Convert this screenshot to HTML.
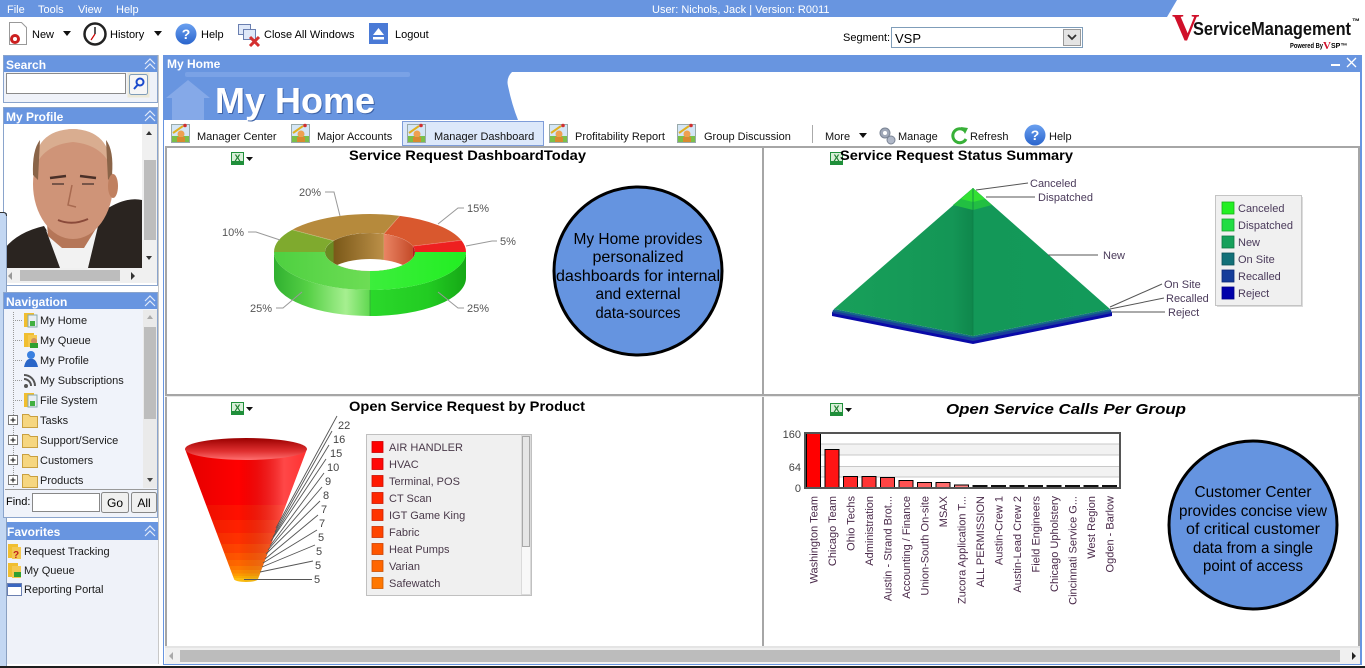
<!DOCTYPE html>
<html><head><meta charset="utf-8"><style>
html,body{margin:0;padding:0;background:#fff;width:1365px;height:668px;overflow:hidden}
svg{display:block}
</style></head><body>
<svg width="1365" height="668" viewBox="0 0 1365 668" xmlns="http://www.w3.org/2000/svg" font-family="'Liberation Sans', Arial, sans-serif">
<defs>
<linearGradient id="gSide1" x1="0" y1="0" x2="1" y2="0"><stop offset="0" stop-color="#2bd82b"/><stop offset="0.6" stop-color="#22cc22"/><stop offset="1" stop-color="#16a816"/></linearGradient>
<linearGradient id="gSide2" x1="0" y1="0" x2="1" y2="0"><stop offset="0" stop-color="#30b030"/><stop offset="0.35" stop-color="#55d045"/><stop offset="0.75" stop-color="#a6ef90"/><stop offset="1" stop-color="#60d850"/></linearGradient>
<linearGradient id="gTop1" x1="0" y1="0" x2="1" y2="0"><stop offset="0" stop-color="#3cee3c"/><stop offset="1" stop-color="#22ee22"/></linearGradient>
<linearGradient id="gTop2" x1="0" y1="0" x2="1" y2="0"><stop offset="0" stop-color="#4ed040"/><stop offset="1" stop-color="#6ddd55"/></linearGradient>
<linearGradient id="gWallB" x1="0" y1="0" x2="1" y2="0"><stop offset="0" stop-color="#7a5818"/><stop offset="1" stop-color="#bc9048"/></linearGradient>
<linearGradient id="gWallO" x1="0" y1="0" x2="1" y2="0"><stop offset="0" stop-color="#ea8464"/><stop offset="1" stop-color="#c44a28"/></linearGradient>
<clipPath id="cInner"><ellipse cx="370" cy="252" rx="45" ry="19"/></clipPath>
<linearGradient id="gPyrL" x1="0" y1="0" x2="1" y2="0"><stop offset="0" stop-color="#18a05a"/><stop offset="0.85" stop-color="#149656"/><stop offset="1" stop-color="#0f874c"/></linearGradient>
<linearGradient id="gPyrR" x1="0" y1="0" x2="1" y2="0"><stop offset="0" stop-color="#139858"/><stop offset="1" stop-color="#139a5a"/></linearGradient>
<clipPath id="cFun"><path d="M185,449 L307,449 L258,579 A12,3 0 0 1 234,579 Z"/></clipPath>
<linearGradient id="gFunShade" x1="0" y1="0" x2="1" y2="0"><stop offset="0" stop-color="#000" stop-opacity="0.12"/><stop offset="0.45" stop-color="#000" stop-opacity="0"/><stop offset="0.8" stop-color="#fff" stop-opacity="0.28"/><stop offset="1" stop-color="#fff" stop-opacity="0.18"/></linearGradient>
<linearGradient id="gFunTop" x1="0" y1="0" x2="0" y2="1"><stop offset="0" stop-color="#9a0000"/><stop offset="0.6" stop-color="#e03030"/><stop offset="1" stop-color="#ff7070"/></linearGradient>
<linearGradient id="gBlueBtn" x1="0" y1="0" x2="0" y2="1"><stop offset="0" stop-color="#6aa0f0"/><stop offset="1" stop-color="#2a64cc"/></linearGradient>
</defs>

<!-- ===== top menu bar ===== -->
<polygon points="0,0 1177,0 1167,17 0,17" fill="#6895e0"/>
<g fill="#fff" font-size="11">
<text x="7" y="13">File</text><text x="38" y="13">Tools</text><text x="78" y="13">View</text><text x="116" y="13">Help</text>
<text x="652" y="13">User: Nichols, Jack  |  Version: R0011</text>
</g>

<!-- toolbar -->
<g>
<path d="M9.5,22.5 L21.5,22.5 L26.5,27.5 L26.5,44.5 L9.5,44.5 Z" fill="#fff" stroke="#999"/>
<circle cx="15" cy="39" r="5" fill="#cc2020"/><circle cx="15" cy="39" r="2" fill="#fff"/>
<text x="32" y="38" font-size="11">New</text>
<polygon points="63,31 71,31 67,36" fill="#111"/>
<circle cx="95" cy="34" r="10.5" fill="#fff" stroke="#222" stroke-width="2.5"/>
<line x1="95" y1="34" x2="95" y2="27" stroke="#222" stroke-width="1.5"/><line x1="95" y1="34" x2="91" y2="40" stroke="#c00" stroke-width="1.2"/>
<text x="110" y="38" font-size="11">History</text>
<polygon points="154,31 162,31 158,36" fill="#111"/>
<circle cx="186" cy="34" r="10.5" fill="url(#gBlueBtn)"/>
<text x="186" y="39" font-size="14" font-weight="bold" fill="#fff" text-anchor="middle">?</text>
<text x="201" y="38" font-size="11">Help</text>
<rect x="238.5" y="24.5" width="12" height="10" fill="#dfe8f8" stroke="#6a7fb0"/>
<rect x="243.5" y="29.5" width="12" height="10" fill="#dfe8f8" stroke="#6a7fb0"/>
<path d="M250,37 L259,46 M259,37 L250,46" stroke="#d43030" stroke-width="3"/>
<text x="264" y="38" font-size="11">Close All Windows</text>
<rect x="369" y="23" width="19" height="21" fill="#4a7ad6"/>
<polygon points="373,35 378.5,28 384,35" fill="#fff"/><rect x="373" y="37" width="11" height="2.5" fill="#fff"/>
<text x="395" y="38" font-size="11">Logout</text>
</g>

<text x="843" y="41" font-size="11">Segment:</text>
<rect x="891.5" y="27.5" width="191" height="20" fill="#fff" stroke="#7f9db9"/>
<text x="895" y="43" font-size="13">VSP</text>
<rect x="1063.5" y="29.5" width="17" height="16" fill="#e4e4e4" stroke="#999"/>
<polyline points="1068,35 1072,39 1076,35" fill="none" stroke="#333" stroke-width="1.8"/>

<!-- logo -->
<text x="1172" y="40" font-family="'Liberation Serif', serif" font-size="38" font-weight="bold" fill="#d0102a">V</text>
<text x="1193" y="35" font-size="18" font-weight="bold" fill="#111" textLength="158" lengthAdjust="spacingAndGlyphs">ServiceManagement</text>
<text x="1352" y="24" font-size="8" font-weight="bold">™</text>
<text x="1290" y="48" font-size="7" font-weight="bold" textLength="33" lengthAdjust="spacingAndGlyphs">Powered By</text>
<text x="1323" y="49" font-family="'Liberation Serif', serif" font-size="11" font-weight="bold" fill="#d0102a">V</text>
<text x="1331" y="48" font-size="7" font-weight="bold">SP™</text>

<!-- ===== left sidebar ===== -->
<!-- search -->
<rect x="3.5" y="55.5" width="154" height="47" fill="#eff2f9" stroke="#8aa4cc"/>
<rect x="4" y="56" width="153" height="16" fill="#6895e0"/>
<text x="6" y="69" font-size="12" font-weight="bold" fill="#fff">Search</text>
<g fill="none" stroke="#e2eafa" stroke-width="1.2"><polyline points="145,64 150,59 155,64"/><polyline points="145,69 150,64 155,69"/></g>
<rect x="6.5" y="73.5" width="119" height="20" fill="#fff" stroke="#8a8a8a"/>
<rect x="127.5" y="72.5" width="22" height="25" fill="#ece9d8"/>
<rect x="129.5" y="74.5" width="18" height="20" rx="2" fill="#f6f6f6" stroke="#7f9db9"/>
<circle cx="140" cy="82" r="3.5" fill="none" stroke="#1a4acc" stroke-width="2"/><line x1="137.5" y1="85" x2="134" y2="89" stroke="#1a4acc" stroke-width="2"/>

<!-- my profile -->
<rect x="3.5" y="107.5" width="154" height="178" fill="#fff" stroke="#8aa4cc"/>
<rect x="4" y="108" width="153" height="16" fill="#6895e0"/>
<text x="6" y="121" font-size="12" font-weight="bold" fill="#fff">My Profile</text>
<g fill="none" stroke="#e2eafa" stroke-width="1.2"><polyline points="145,116 150,111 155,116"/><polyline points="145,121 150,116 155,121"/></g>
<!-- photo -->
<g>
<path d="M5,268 L5,248 Q18,232 44,226 L58,248 L86,248 L102,212 Q125,196 142,200 L142,268 Z" fill="#2a2420"/>
<path d="M46,230 L60,268 L88,268 L100,218 L84,246 L62,246 Z" fill="#f2f2f2"/>
<path d="M46,212 L48,236 L62,248 L84,248 L100,222 L104,200 Z" fill="#b57658"/>
<ellipse cx="73" cy="184" rx="40" ry="55" fill="#cf9478"/>
<path d="M34,170 Q34,130 73,129 Q110,130 112,170 Q104,145 73,142 Q42,145 34,170 Z" fill="#d9ad90"/>
<path d="M33,175 Q32,150 40,140 L38,180 Z M112,175 Q114,150 106,140 L108,180 Z" fill="#8a6448"/>
<ellipse cx="113" cy="186" rx="5" ry="12" fill="#c08060"/>
<path d="M50,178 L66,176 M80,176 L96,178" stroke="#4a3028" stroke-width="2.5"/>
<path d="M52,184 L64,184 M82,184 L94,184" stroke="#5a4038" stroke-width="1.5"/>
<path d="M72,185 L68,205 L76,207" fill="none" stroke="#a86a50" stroke-width="1.5"/>
<path d="M58,220 Q72,226 88,219" fill="none" stroke="#8a4a3a" stroke-width="2"/>
</g>
<rect x="142" y="124" width="15" height="144" fill="#f0f0f0"/>
<rect x="144" y="160" width="12" height="80" fill="#bdbdbd"/>
<polygon points="146,135 152,135 149,131" fill="#333"/><polygon points="146,256 152,256 149,260" fill="#333"/>
<rect x="5" y="268" width="152" height="15" fill="#f0f0f0"/>
<rect x="20" y="270" width="100" height="11" fill="#bdbdbd"/>
<polygon points="12,272 12,280 8,276" fill="#999"/><polygon points="131,272 131,280 135,276" fill="#333"/>

<!-- left strip artifact -->
<rect x="0" y="212" width="6" height="456" fill="#c3d7f2"/>
<line x1="6.5" y1="213" x2="6.5" y2="668" stroke="#8aa0c0"/>
<path d="M0,212.5 L4,212.5 Q6.5,213 6.5,216" fill="none" stroke="#333"/>

<!-- navigation -->
<rect x="3.5" y="292.5" width="154" height="225" fill="#f0f3fa" stroke="#8aa4cc"/>
<rect x="4" y="293" width="153" height="16" fill="#6895e0"/>
<text x="6" y="306" font-size="12" font-weight="bold" fill="#fff">Navigation</text>
<g fill="none" stroke="#e2eafa" stroke-width="1.2"><polyline points="145,301 150,296 155,301"/><polyline points="145,306 150,301 155,306"/></g>
<g stroke="#999" stroke-dasharray="1,1" fill="none">
<line x1="13.5" y1="312" x2="13.5" y2="488"/>
<line x1="13" y1="320.5" x2="22" y2="320.5"/><line x1="13" y1="340.5" x2="22" y2="340.5"/><line x1="13" y1="360.5" x2="22" y2="360.5"/><line x1="13" y1="380.5" x2="22" y2="380.5"/><line x1="13" y1="400.5" x2="22" y2="400.5"/>
</g>
<g>
<!-- My Home -->
<rect x="24" y="313" width="10" height="14" fill="#f0be30"/><rect x="28" y="315" width="9" height="12" fill="#e8eef4" stroke="#8aa"/><rect x="30" y="321" width="5" height="5" fill="#40b040"/>
<!-- My Queue -->
<rect x="24" y="333" width="10" height="14" fill="#f0be30"/><rect x="28" y="335" width="9" height="12" fill="#f4c850"/><circle cx="34" cy="341" r="3" fill="#d09060"/><rect x="30" y="343" width="8" height="5" fill="#30a030"/>
<!-- My Profile -->
<circle cx="31" cy="355" r="4" fill="#3a80e0"/><path d="M24,367 Q26,358 31,359 Q36,358 38,367 Z" fill="#2a66c8"/>
<!-- Subscriptions -->
<circle cx="26" cy="386" r="2" fill="#555"/><path d="M24,379 A7,7 0 0 1 31,386 M24,375 A11,11 0 0 1 35,386" fill="none" stroke="#555" stroke-width="2"/>
<!-- File System -->
<rect x="24" y="393" width="10" height="14" fill="#f0be30"/><rect x="28" y="395" width="9" height="12" fill="#e8eef4" stroke="#8aa"/><rect x="30" y="401" width="5" height="5" fill="#40b040"/>
</g>
<g font-size="11" fill="#1a1a1a">
<text x="40" y="324">My Home</text><text x="40" y="344">My Queue</text><text x="40" y="364">My Profile</text><text x="40" y="384">My Subscriptions</text><text x="40" y="404">File System</text>
<text x="40" y="424">Tasks</text><text x="40" y="444">Support/Service</text><text x="40" y="464">Customers</text><text x="40" y="484">Products</text>
</g>
<g>
<g id="plus1"><rect x="8.5" y="415.5" width="9" height="9" fill="#fff" stroke="#777"/><path d="M10.5,420 L15.5,420 M13,417.5 L13,422.5" stroke="#111"/></g>
<rect x="8.5" y="435.5" width="9" height="9" fill="#fff" stroke="#777"/><path d="M10.5,440 L15.5,440 M13,437.5 L13,442.5" stroke="#111"/>
<rect x="8.5" y="455.5" width="9" height="9" fill="#fff" stroke="#777"/><path d="M10.5,460 L15.5,460 M13,457.5 L13,462.5" stroke="#111"/>
<rect x="8.5" y="475.5" width="9" height="9" fill="#fff" stroke="#777"/><path d="M10.5,480 L15.5,480 M13,477.5 L13,482.5" stroke="#111"/>
<g fill="#f6d680" stroke="#c9a040">
<path d="M22.5,414.5 L28.5,414.5 L30.5,416.5 L37.5,416.5 L37.5,427.5 L22.5,427.5 Z"/>
<path d="M22.5,434.5 L28.5,434.5 L30.5,436.5 L37.5,436.5 L37.5,447.5 L22.5,447.5 Z"/>
<path d="M22.5,454.5 L28.5,454.5 L30.5,456.5 L37.5,456.5 L37.5,467.5 L22.5,467.5 Z"/>
<path d="M22.5,474.5 L28.5,474.5 L30.5,476.5 L37.5,476.5 L37.5,487.5 L22.5,487.5 Z"/>
</g>
</g>
<rect x="143" y="310" width="14" height="178" fill="#eaeaea"/>
<rect x="144" y="327" width="12" height="92" fill="#bdbdbd"/>
<polygon points="147,319 153,319 150,315" fill="#aaa"/><polygon points="147,478 153,478 150,482" fill="#444"/>
<line x1="5" y1="489.5" x2="157" y2="489.5" stroke="#999"/>
<text x="6" y="505" font-size="11">Find:</text>
<rect x="32.5" y="493.5" width="67" height="18" fill="#fff" stroke="#888"/>
<rect x="101.5" y="492.5" width="27" height="20" rx="2" fill="#f0f0f0" stroke="#888"/>
<text x="115" y="507" font-size="12" text-anchor="middle">Go</text>
<rect x="131.5" y="492.5" width="25" height="20" rx="2" fill="#f0f0f0" stroke="#888"/>
<text x="144" y="507" font-size="12" text-anchor="middle">All</text>

<!-- favorites -->
<rect x="7" y="522" width="151" height="142" fill="#eff2f9"/>
<rect x="7" y="522" width="151" height="18" fill="#6895e0"/>
<text x="7" y="536" font-size="12" font-weight="bold" fill="#fff">Favorites</text>
<g fill="none" stroke="#e2eafa" stroke-width="1.2"><polyline points="145,531 150,526 155,531"/><polyline points="145,536 150,531 155,536"/></g>
<rect x="8" y="544" width="10" height="14" fill="#f0be30"/><rect x="12" y="547" width="9" height="12" fill="#f4c850"/><text x="13" y="558" font-size="10" font-weight="bold" fill="#c02020">?</text>
<rect x="8" y="563" width="10" height="14" fill="#f0be30"/><rect x="12" y="566" width="9" height="12" fill="#f4c850"/><rect x="14" y="572" width="7" height="5" fill="#30a030"/>
<rect x="7.5" y="583.5" width="14" height="12" fill="#fff" stroke="#6a7fb0"/><rect x="8" y="584" width="13" height="3" fill="#3a66c0"/>
<g font-size="11" fill="#1a1a1a"><text x="24" y="555">Request Tracking</text><text x="24" y="574">My Queue</text><text x="24" y="593">Reporting Portal</text></g>
<line x1="158.5" y1="55" x2="158.5" y2="664" stroke="#c8c8c8"/>

<!-- ===== main window ===== -->
<rect x="163.5" y="55.5" width="1198" height="609" fill="#fff" stroke="#6895e0"/>
<rect x="163" y="55" width="1199" height="17" fill="#6895e0"/>
<text x="167" y="68" font-size="12" font-weight="bold" fill="#fff">My Home</text>
<line x1="1331" y1="65" x2="1340" y2="65" stroke="#fff" stroke-width="2"/>
<path d="M1347,58 L1356,67 M1356,58 L1347,67" stroke="#fff" stroke-width="1.3"/>
<!-- banner -->
<path d="M164,72 L512,72 Q506,78 508,86 Q512,105 518,120 L164,120 Z" fill="#6895e0"/>
<rect x="185" y="72" width="225" height="5" rx="2" fill="#7aa2e6"/>
<path d="M166,98 L188,80 L210,98 L204,98 L204,120 L172,120 L172,98 Z" fill="#85a9e8"/>
<text x="216" y="114" font-size="36" font-weight="bold" fill="#3f64a8">My Home</text>
<text x="215" y="113" font-size="36" font-weight="bold" fill="#fff">My Home</text>

<!-- tabs -->
<rect x="402.5" y="121.5" width="141" height="24" fill="#dce8fa" stroke="#7f9dd9"/>
<g id="ticon">
<g transform="translate(171,124)"><rect x="0.5" y="0.5" width="18" height="18" fill="#d4e6f6" stroke="#9aa"/><rect x="1" y="12" width="17" height="6" fill="#7ac04a"/><circle cx="10" cy="10" r="3.5" fill="#eea050"/><rect x="6" y="13" width="8" height="5" fill="#d88a30"/><line x1="2" y1="9" x2="12" y2="2" stroke="#e0b020" stroke-width="2"/><circle cx="14" cy="1.5" r="1.8" fill="#d03030"/></g>
</g>
<g transform="translate(291,124)"><rect x="0.5" y="0.5" width="18" height="18" fill="#d4e6f6" stroke="#9aa"/><rect x="1" y="12" width="17" height="6" fill="#7ac04a"/><circle cx="10" cy="10" r="3.5" fill="#eea050"/><rect x="6" y="13" width="8" height="5" fill="#d88a30"/><line x1="2" y1="9" x2="12" y2="2" stroke="#e0b020" stroke-width="2"/><circle cx="14" cy="1.5" r="1.8" fill="#d03030"/></g>
<g transform="translate(407,124)"><rect x="0.5" y="0.5" width="18" height="18" fill="#d4e6f6" stroke="#9aa"/><rect x="1" y="12" width="17" height="6" fill="#7ac04a"/><circle cx="10" cy="10" r="3.5" fill="#eea050"/><rect x="6" y="13" width="8" height="5" fill="#d88a30"/><line x1="2" y1="9" x2="12" y2="2" stroke="#e0b020" stroke-width="2"/><circle cx="14" cy="1.5" r="1.8" fill="#d03030"/></g>
<g transform="translate(549,124)"><rect x="0.5" y="0.5" width="18" height="18" fill="#d4e6f6" stroke="#9aa"/><rect x="1" y="12" width="17" height="6" fill="#7ac04a"/><circle cx="10" cy="10" r="3.5" fill="#eea050"/><rect x="6" y="13" width="8" height="5" fill="#d88a30"/><line x1="2" y1="9" x2="12" y2="2" stroke="#e0b020" stroke-width="2"/><circle cx="14" cy="1.5" r="1.8" fill="#d03030"/></g>
<g transform="translate(677,124)"><rect x="0.5" y="0.5" width="18" height="18" fill="#d4e6f6" stroke="#9aa"/><rect x="1" y="12" width="17" height="6" fill="#7ac04a"/><circle cx="10" cy="10" r="3.5" fill="#eea050"/><rect x="6" y="13" width="8" height="5" fill="#d88a30"/><line x1="2" y1="9" x2="12" y2="2" stroke="#e0b020" stroke-width="2"/><circle cx="14" cy="1.5" r="1.8" fill="#d03030"/></g>
<g font-size="11" fill="#111">
<text x="197" y="140">Manager Center</text><text x="317" y="140">Major Accounts</text><text x="434" y="140">Manager Dashboard</text>
<text x="575" y="140">Profitability Report</text><text x="704" y="140">Group Discussion</text>
<text x="825" y="140">More</text><text x="898" y="140">Manage</text><text x="970" y="140">Refresh</text><text x="1049" y="140">Help</text>
</g>
<line x1="812.5" y1="125" x2="812.5" y2="143" stroke="#aaa"/>
<polygon points="859,133 867,133 863,138" fill="#111"/>
<circle cx="885" cy="133" r="5" fill="#a0a8b8" stroke="#7a8494"/><circle cx="885" cy="133" r="2" fill="#fff"/>
<circle cx="891" cy="140" r="4" fill="#b0b8c8" stroke="#7a8494"/>
<path d="M965,131 A7,7 0 1 0 966,139" fill="none" stroke="#38b038" stroke-width="3"/>
<polygon points="961,127 968,128 965,134" fill="#38b038"/>
<circle cx="1035" cy="135" r="10.5" fill="url(#gBlueBtn)"/>
<text x="1035" y="140" font-size="14" font-weight="bold" fill="#fff" text-anchor="middle">?</text>

<!-- content borders -->
<rect x="165" y="146" width="1195" height="2" fill="#a6a6a6"/>
<rect x="165" y="146" width="2" height="502" fill="#a6a6a6"/>
<rect x="1358" y="146" width="2" height="502" fill="#a6a6a6"/>
<rect x="762" y="146" width="2" height="502" fill="#a6a6a6"/>
<rect x="165" y="394" width="1195" height="2" fill="#a6a6a6"/>
<rect x="165" y="396" width="1195" height="1" fill="#e8e8e8"/>
<rect x="165" y="646" width="1195" height="2" fill="#e4e4e4"/>
<!-- bottom scrollbar -->
<rect x="165" y="648" width="1195" height="16" fill="#f0f0f0"/>
<rect x="180" y="650" width="1160" height="12" fill="#bcbcbc"/>
<polygon points="173,652 173,660 169,656" fill="#aaa"/>
<polygon points="1352,652 1352,660 1356,656" fill="#222"/>
<rect x="1360" y="55" width="2" height="610" fill="#6895e0"/>
<rect x="0" y="666" width="1365" height="2" fill="#1e1e1e"/>

<!-- excel icons -->
<g>
<rect x="231" y="152" width="13" height="13" fill="#1f8f3a"/><rect x="232" y="153" width="11" height="8" fill="#d8efd8"/><text x="237.5" y="161" font-size="9" font-weight="bold" fill="#1f7f30" text-anchor="middle">X</text><polygon points="246,157 253,157 249.5,161" fill="#111"/>
<rect x="830" y="152" width="13" height="13" fill="#1f8f3a"/><rect x="831" y="153" width="11" height="8" fill="#d8efd8"/><text x="836.5" y="161" font-size="9" font-weight="bold" fill="#1f7f30" text-anchor="middle">X</text>
<rect x="231" y="402" width="13" height="13" fill="#1f8f3a"/><rect x="232" y="403" width="11" height="8" fill="#d8efd8"/><text x="237.5" y="411" font-size="9" font-weight="bold" fill="#1f7f30" text-anchor="middle">X</text><polygon points="246,407 253,407 249.5,411" fill="#111"/>
<rect x="830" y="403" width="13" height="13" fill="#1f8f3a"/><rect x="831" y="404" width="11" height="8" fill="#d8efd8"/><text x="836.5" y="412" font-size="9" font-weight="bold" fill="#1f7f30" text-anchor="middle">X</text><polygon points="845,408 852,408 848.5,412" fill="#111"/>
</g>

<!-- titles -->
<g font-weight="bold" fill="#000">
<text x="349" y="160" font-size="14" textLength="237" lengthAdjust="spacingAndGlyphs">Service Request DashboardToday</text>
<text x="840" y="160" font-size="14" textLength="233" lengthAdjust="spacingAndGlyphs">Service Request Status Summary</text>
<text x="349" y="411" font-size="14" textLength="236" lengthAdjust="spacingAndGlyphs">Open Service Request by Product</text>
<text x="946" y="414" font-size="15" font-style="italic" textLength="240" lengthAdjust="spacingAndGlyphs">Open Service Calls Per Group</text>
</g>

<!-- ===== donut chart ===== -->
<g>
<path d="M466,252 A96,38 0 0 1 370,290 L370,316 A96,38 0 0 0 466,278 Z" fill="url(#gSide1)"/>
<path d="M370,290 A96,38 0 0 1 274,252 L274,278 A96,38 0 0 0 370,316 Z" fill="url(#gSide2)"/>
<line x1="370" y1="290" x2="370" y2="316" stroke="#3aa83a" stroke-width="0.8"/>
<path d="M466,252 A96,38 0 0 1 370,290 L370,271 A45,19 0 0 0 415,252 Z" fill="url(#gTop1)"/>
<path d="M370,290 A96,38 0 0 1 274,252 L325,252 A45,19 0 0 0 370,271 Z" fill="url(#gTop2)"/>
<path d="M274,252 A96,38 0 0 1 292.3,229.7 L333.6,240.8 A45,19 0 0 0 325,252 Z" fill="#7faa2e"/>
<path d="M292.3,229.7 A96,38 0 0 1 399.7,215.9 L383.9,233.9 A45,19 0 0 0 333.6,240.8 Z" fill="#b68a3c"/>
<path d="M399.7,215.9 A96,38 0 0 1 461.3,240.3 L412.8,246.1 A45,19 0 0 0 383.9,233.9 Z" fill="#d9582e"/>
<path d="M461.3,240.3 A96,38 0 0 1 466,252 L415,252 A45,19 0 0 0 412.8,246.1 Z" fill="#ee2020"/>
<g stroke="#fff" stroke-opacity="0.25" stroke-width="0.8" fill="none">
<line x1="292.3" y1="229.7" x2="333.6" y2="240.8"/><line x1="399.7" y1="215.9" x2="383.9" y2="233.9"/><line x1="461.3" y1="240.3" x2="412.8" y2="246.1"/>
</g>
<!-- inner hole -->
<ellipse cx="370" cy="252" rx="45" ry="19" fill="#fff"/>
<g clip-path="url(#cInner)">
<rect x="325" y="230" width="9" height="60" fill="#6a8a22"/>
<rect x="333.6" y="230" width="50.3" height="60" fill="url(#gWallB)"/>
<rect x="383.9" y="230" width="29" height="60" fill="url(#gWallO)"/>
<rect x="412.8" y="230" width="3" height="60" fill="#b02020"/>
<ellipse cx="370" cy="278" rx="45" ry="19" fill="#fff"/>
</g>
<!-- labels -->
<g fill="none" stroke="#999">
<polyline points="325,192 334,192 340,216"/>
<polyline points="464,208 458,208 438,224"/>
<polyline points="497,241 492,241 466,246"/>
<polyline points="248,232 256,232 280,240"/>
<polyline points="276,308 283,308 302,292"/>
<polyline points="464,308 458,308 438,292"/>
</g>
<g font-size="11" fill="#555">
<text x="299" y="196">20%</text><text x="467" y="212">15%</text><text x="500" y="245">5%</text>
<text x="222" y="236">10%</text><text x="250" y="312">25%</text><text x="467" y="312">25%</text>
</g>
</g>

<!-- blue ellipse 1 -->
<ellipse cx="638" cy="271" rx="84" ry="84" fill="#6594e0" stroke="#000" stroke-width="3"/>
<g font-size="16" fill="#000" text-anchor="middle">
<text x="638" y="244" textLength="129" lengthAdjust="spacingAndGlyphs">My Home provides</text>
<text x="638" y="262" textLength="91" lengthAdjust="spacingAndGlyphs">personalized</text>
<text x="638" y="281" textLength="164" lengthAdjust="spacingAndGlyphs">dashboards for internal</text>
<text x="638" y="299" textLength="85" lengthAdjust="spacingAndGlyphs">and external</text>
<text x="638" y="318" textLength="85" lengthAdjust="spacingAndGlyphs">data-sources</text>
</g>

<!-- ===== pyramid ===== -->
<g>
<polygon points="832,312 973,340 1112,312 1112,316 973,344 832,316" fill="#0a0aa8"/>
<polygon points="833,310 973,337 1111,310 1112,313 973,341 832,313" fill="#1a3c9c"/>
<polygon points="834,309 973,336 1110,309 1111,311 973,338 833,311" fill="#156a88"/>
<polygon points="973,188 834,309 973,336" fill="url(#gPyrL)"/>
<polygon points="973,188 973,336 1110,309" fill="url(#gPyrR)"/>
<polygon points="973,188 953,205 973,210 992,205" fill="#22bf42"/>
<polygon points="973,188 961,199 973,202 985,199" fill="#33e033"/>
<line x1="973" y1="188" x2="973" y2="336" stroke="#0e8048" stroke-width="0.8"/>
<g fill="none" stroke="#555">
<line x1="976" y1="190" x2="1028" y2="183"/>
<line x1="986" y1="197" x2="1035" y2="197"/>
<line x1="1048" y1="255" x2="1098" y2="255"/>
<line x1="1110" y1="307" x2="1162" y2="284"/>
<line x1="1110" y1="309" x2="1164" y2="298"/>
<line x1="1112" y1="312" x2="1165" y2="312"/>
</g>
<g font-size="11" fill="#4a3a5a">
<text x="1030" y="187">Canceled</text><text x="1038" y="201">Dispatched</text><text x="1103" y="259">New</text>
<text x="1164" y="288">On Site</text><text x="1166" y="302">Recalled</text><text x="1168" y="316">Reject</text>
</g>
<rect x="1217" y="197" width="86" height="110" fill="#dcdcdc"/>
<rect x="1215.5" y="195.5" width="86" height="110" fill="#f0f0f0" stroke="#c4c4c4"/>
<g stroke-width="0.8">
<rect x="1222" y="202" width="12" height="12" fill="#22f022" stroke="#18b018"/>
<rect x="1222" y="219" width="12" height="12" fill="#22dd44" stroke="#18a030"/>
<rect x="1222" y="236" width="12" height="12" fill="#16a05a" stroke="#0e7a44"/>
<rect x="1222" y="253" width="12" height="12" fill="#127078" stroke="#0c5058"/>
<rect x="1222" y="270" width="12" height="12" fill="#153c9a" stroke="#0c2a78"/>
<rect x="1222" y="287" width="12" height="12" fill="#0000aa" stroke="#000088"/>
</g>
<g font-size="11" fill="#4a3a5a">
<text x="1238" y="212">Canceled</text><text x="1238" y="229">Dispatched</text><text x="1238" y="246">New</text>
<text x="1238" y="263">On Site</text><text x="1238" y="280">Recalled</text><text x="1238" y="297">Reject</text>
</g>
</g>

<!-- ===== funnel ===== -->
<g>
<g clip-path="url(#cFun)">
<rect x="180" y="440" width="130" height="65" fill="#ff0000"/>
<rect x="180" y="505" width="130" height="15" fill="#ff1000"/>
<rect x="180" y="520" width="130" height="13" fill="#ff2000"/>
<rect x="180" y="533" width="130" height="11" fill="#ff3000"/>
<rect x="180" y="544" width="130" height="9" fill="#ff4200"/>
<rect x="180" y="553" width="130" height="7" fill="#ff5400"/>
<rect x="180" y="560" width="130" height="6" fill="#ff6600"/>
<rect x="180" y="566" width="130" height="4" fill="#ff7800"/>
<rect x="180" y="570" width="130" height="3.5" fill="#ff8a00"/>
<rect x="180" y="573.5" width="130" height="2.5" fill="#ff9c00"/>
<rect x="180" y="576" width="130" height="2" fill="#ffae00"/>
<rect x="180" y="578" width="130" height="6" fill="#ffbe10"/>
<rect x="180" y="440" width="130" height="145" fill="url(#gFunShade)"/>
</g>
<ellipse cx="246" cy="449" rx="61" ry="11" fill="url(#gFunTop)"/>
<g stroke="#555" stroke-width="0.9" fill="none">
<line x1="337" y1="416" x2="276" y2="528"/>
<line x1="332" y1="431" x2="275" y2="532"/>
<line x1="329" y1="445" x2="273" y2="537"/>
<line x1="326" y1="459" x2="271" y2="541"/>
<line x1="324" y1="473" x2="270" y2="546"/>
<line x1="322" y1="487" x2="268" y2="550"/>
<line x1="320" y1="501" x2="266" y2="554"/>
<line x1="318" y1="515" x2="265" y2="559"/>
<line x1="317" y1="530" x2="263" y2="563"/>
<line x1="315" y1="545" x2="262" y2="567"/>
<line x1="313" y1="561" x2="260" y2="572"/>
<line x1="244" y1="579.5" x2="312" y2="579.5"/>
</g>
<g font-size="11" fill="#444">
<text x="338" y="429">22</text><text x="333" y="443">16</text><text x="330" y="457">15</text><text x="327" y="471">10</text>
<text x="325" y="485">9</text><text x="323" y="499">8</text><text x="321" y="513">7</text><text x="319" y="527">7</text>
<text x="318" y="541">5</text><text x="316" y="555">5</text><text x="315" y="569">5</text><text x="314" y="583">5</text>
</g>
<rect x="366.5" y="434.5" width="165" height="161" fill="#f0f0f0" stroke="#c0c0c0"/>
<rect x="521.5" y="435.5" width="9" height="159" fill="#f8f8f8" stroke="#dadada"/>
<rect x="522.5" y="436.5" width="7" height="110" fill="#e6e6e6" stroke="#a8a8a8"/>
<g stroke-width="0.8">
<rect x="372" y="441.5" width="11" height="11" fill="#ff0000" stroke="#cc0000"/>
<rect x="372" y="458.5" width="11" height="11" fill="#ff0808" stroke="#cc0000"/>
<rect x="372" y="475.5" width="11" height="11" fill="#ff1800" stroke="#cc1000"/>
<rect x="372" y="492.5" width="11" height="11" fill="#ff2600" stroke="#cc1800"/>
<rect x="372" y="509.5" width="11" height="11" fill="#ff3400" stroke="#cc2200"/>
<rect x="372" y="526.5" width="11" height="11" fill="#ff4400" stroke="#cc3000"/>
<rect x="372" y="543.5" width="11" height="11" fill="#ff5600" stroke="#cc4000"/>
<rect x="372" y="560.5" width="11" height="11" fill="#ff6600" stroke="#cc5000"/>
<rect x="372" y="577.5" width="11" height="11" fill="#ff7700" stroke="#cc5a00"/>
</g>
<g font-size="11" fill="#4a3a4a">
<text x="389" y="451">AIR HANDLER</text><text x="389" y="468">HVAC</text><text x="389" y="485">Terminal, POS</text>
<text x="389" y="502">CT Scan</text><text x="389" y="519">IGT Game King</text><text x="389" y="536">Fabric</text>
<text x="389" y="553">Heat Pumps</text><text x="389" y="570">Varian</text><text x="389" y="587">Safewatch</text>
</g>
</g>

<!-- ===== bar chart ===== -->
<g>
<rect x="805" y="433" width="315" height="55" fill="#fff"/>
<rect x="805" y="444" width="315" height="11" fill="#f2f2f2"/>
<rect x="805" y="466" width="315" height="11" fill="#f2f2f2"/>
<g stroke="#c8c8c8"><line x1="805" y1="444" x2="1120" y2="444"/><line x1="805" y1="455" x2="1120" y2="455"/><line x1="805" y1="466.5" x2="1120" y2="466.5"/><line x1="805" y1="477" x2="1120" y2="477"/></g>
<g stroke="#000" stroke-width="1">
<rect x="806.5" y="433" width="14" height="54.5" fill="#ff0000"/>
<rect x="825" y="449.5" width="14" height="38" fill="#ff1414"/>
<rect x="843.5" y="476.5" width="14" height="11" fill="#ff2828"/>
<rect x="862" y="476.5" width="14" height="11" fill="#ff3434"/>
<rect x="880.5" y="477.5" width="14" height="10" fill="#ff4444"/>
<rect x="899" y="480.5" width="14" height="7" fill="#ff5252"/>
<rect x="917.5" y="482.5" width="14" height="5" fill="#ff6262"/>
<rect x="936" y="482.5" width="14" height="5" fill="#ff6c6c"/>
<rect x="954.5" y="485" width="14" height="2.5" fill="#ff8080"/>
</g>
<g fill="#111">
<rect x="972.5" y="485" width="15" height="3"/><rect x="991" y="485" width="15" height="3"/><rect x="1009.5" y="485" width="15" height="3"/><rect x="1028" y="485" width="15" height="3"/>
<rect x="1046.5" y="485" width="15" height="3"/><rect x="1065" y="485" width="15" height="3"/><rect x="1083.5" y="485" width="15" height="3"/><rect x="1102" y="485" width="15" height="3"/>
</g>
<rect x="805" y="433" width="315" height="55" fill="none" stroke="#555" stroke-width="2"/>
<g font-size="11" fill="#444" text-anchor="end">
<text x="801" y="438">160</text><text x="801" y="471">64</text><text x="801" y="492">0</text>
</g>
<g font-size="11" fill="#4a2a4a" text-anchor="end">
<text transform="translate(817.5,496) rotate(-90)">Washington Team</text>
<text transform="translate(836,496) rotate(-90)">Chicago Team</text>
<text transform="translate(854.5,496) rotate(-90)">Ohio Techs</text>
<text transform="translate(873,496) rotate(-90)">Administration</text>
<text transform="translate(891.5,496) rotate(-90)">Austin - Strand Brot...</text>
<text transform="translate(910,496) rotate(-90)">Accounting / Finance</text>
<text transform="translate(928.5,496) rotate(-90)">Union-South On-site</text>
<text transform="translate(947,496) rotate(-90)">MSAX</text>
<text transform="translate(965.5,496) rotate(-90)">Zucora Application T...</text>
<text transform="translate(984,496) rotate(-90)">ALL PERMISSION</text>
<text transform="translate(1002.5,496) rotate(-90)">Austin-Crew 1</text>
<text transform="translate(1021,496) rotate(-90)">Austin-Lead Crew 2</text>
<text transform="translate(1039.5,496) rotate(-90)">Field Engineers</text>
<text transform="translate(1058,496) rotate(-90)">Chicago Upholstery</text>
<text transform="translate(1076.5,496) rotate(-90)">Cincinnati Service G...</text>
<text transform="translate(1095,496) rotate(-90)">West Region</text>
<text transform="translate(1113.5,496) rotate(-90)">Ogden - Barlow</text>
</g>
</g>

<!-- blue ellipse 2 -->
<ellipse cx="1253" cy="525" rx="84" ry="84" fill="#6594e0" stroke="#000" stroke-width="3"/>
<g font-size="16" fill="#000" text-anchor="middle">
<text x="1253" y="497" textLength="117" lengthAdjust="spacingAndGlyphs">Customer Center</text>
<text x="1253" y="516" textLength="148" lengthAdjust="spacingAndGlyphs">provides concise view</text>
<text x="1253" y="534" textLength="134" lengthAdjust="spacingAndGlyphs">of critical customer</text>
<text x="1253" y="553" textLength="120" lengthAdjust="spacingAndGlyphs">data from a single</text>
<text x="1253" y="571" textLength="100" lengthAdjust="spacingAndGlyphs">point of access</text>
</g>
</svg>
</body></html>
